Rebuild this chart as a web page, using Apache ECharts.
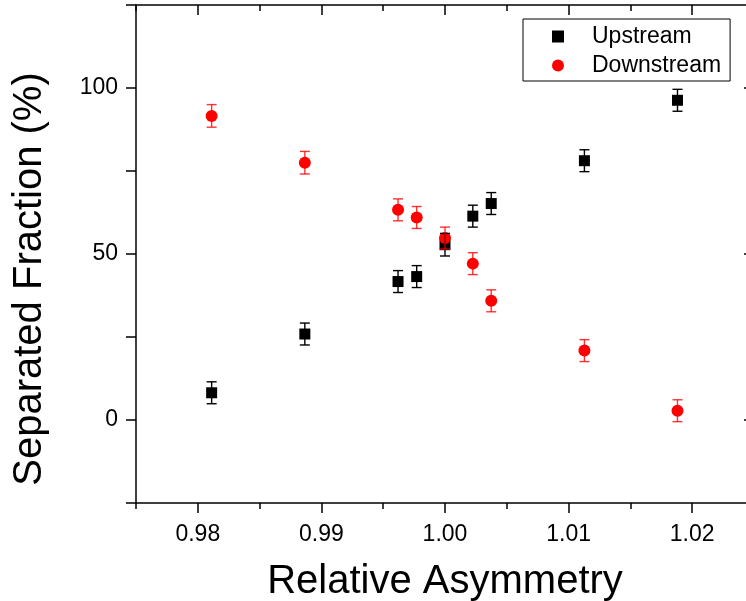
<!DOCTYPE html>
<html><head><meta charset="utf-8">
<script src="https://cdn.jsdelivr.net/npm/echarts@6/dist/echarts.min.js"></script>
<style>html,body{margin:0;padding:0;background:#fff}#c{width:746px;height:601px}</style>
</head><body><div id="c"></div>
<script>
// ---- data ----
const asymmetry = [0.98112, 0.98866, 0.99620, 0.99771, 1.00000, 1.00225, 1.00374, 1.01128, 1.01881];
const upstream = [8.2, 25.9, 41.7, 43.2, 52.8, 61.4, 65.2, 78.1, 96.3];
const upstreamErr = [3.3, 3.3, 3.3, 3.3, 3.4, 3.3, 3.3, 3.3, 3.3];
const downstream = [91.6, 77.5, 63.3, 61.0, 54.8, 47.1, 35.9, 20.9, 2.8];
const downstreamErr = [3.4, 3.4, 3.3, 3.3, 3.3, 3.3, 3.3, 3.3, 3.3];
const xTickLabels = [0.98, 0.99, 1.00, 1.01, 1.02];
const yTickLabels = [0, 50, 100];
const seriesNames = ['Upstream', 'Downstream'];

const FONT = '"Liberation Sans", Arial, sans-serif';
const X_MIN = 0.975, X_MAX = 1.025, X_STEP = 0.005;
const Y_MIN = -25, Y_MAX = 125, Y_STEP = 25;

const chart = echarts.init(document.getElementById('c'), null, {renderer: 'canvas'});

function errSeries(vals, errs, color) {
  return {
    type: 'custom',
    xAxisIndex: 0, yAxisIndex: 0,
    silent: true, z: 5,
    data: asymmetry.map((x, i) => [x, vals[i] - errs[i], vals[i] + errs[i]]),
    encode: {x: 0, y: [1, 2]},
    renderItem: function (params, api) {
      const x = api.value(0);
      const lo = api.coord([x, api.value(1)]);
      const hi = api.coord([x, api.value(2)]);
      const hw = 5;
      const st = {stroke: color, lineWidth: 1.4};
      return {type: 'group', children: [
        {type: 'line', shape: {x1: lo[0], y1: lo[1], x2: hi[0], y2: hi[1]}, style: st},
        {type: 'line', shape: {x1: lo[0] - hw, y1: lo[1], x2: lo[0] + hw, y2: lo[1]}, style: st},
        {type: 'line', shape: {x1: hi[0] - hw, y1: hi[1], x2: hi[0] + hw, y2: hi[1]}, style: st}
      ]};
    }
  };
}

const axisLineStyle = {color: '#000', width: 1.5};
const xBase = {type: 'value', min: X_MIN, max: X_MAX, interval: X_STEP, splitLine: {show: false}};
const yBase = {type: 'value', min: Y_MIN, max: Y_MAX, interval: Y_STEP, splitLine: {show: false}};

const option = {
  animation: false,
  backgroundColor: '#fff',
  textStyle: {fontFamily: FONT, color: '#000'},
  grid: {left: 136, top: 5, width: 618, height: 498, containLabel: false, outerBoundsMode: 'none'},
  legend: {
    data: [
      {name: seriesNames[0], icon: 'rect'},
      {name: seriesNames[1], icon: 'circle'}
    ],
    orient: 'vertical', left: 523, top: 19,
    itemWidth: 12, itemHeight: 12, itemGap: 6,
    padding: [6, 9, 4, 29],
    borderColor: '#000', borderWidth: 1, backgroundColor: '#fff',
    textStyle: {fontSize: 23, fontFamily: FONT, color: '#000', lineHeight: 23, padding: [0, 0, 0, 23]}
  },
  xAxis: [
    Object.assign({}, xBase, {
      position: 'bottom',
      axisLine: {show: true, onZero: false, lineStyle: axisLineStyle},
      axisTick: {show: true, inside: false, length: 6, lineStyle: {color: '#000', width: 1.5}},
      axisLabel: {show: true, customValues: xTickLabels, formatter: v => v.toFixed(2),
        fontSize: 23, margin: 20, color: '#000', fontFamily: FONT},
      name: 'Relative Asymmetry', nameLocation: 'middle', nameGap: 59,
      nameTextStyle: {fontSize: 40, color: '#000', fontFamily: FONT}
    }),
    Object.assign({}, xBase, {
      position: 'bottom',
      axisLine: {show: false, onZero: false},
      axisTick: {show: true, inside: false, length: 10, customValues: xTickLabels, lineStyle: {color: '#000', width: 1.5}},
      axisLabel: {show: false}
    }),
    Object.assign({}, xBase, {
      position: 'top',
      axisLine: {show: true, onZero: false, lineStyle: axisLineStyle},
      axisTick: {show: true, inside: true, length: 6, lineStyle: {color: '#000', width: 1.5}},
      axisLabel: {show: false}
    }),
    Object.assign({}, xBase, {
      position: 'top',
      axisLine: {show: false, onZero: false},
      axisTick: {show: true, inside: true, length: 10, customValues: xTickLabels, lineStyle: {color: '#000', width: 1.5}},
      axisLabel: {show: false}
    })
  ],
  yAxis: [
    Object.assign({}, yBase, {
      position: 'left',
      axisLine: {show: true, onZero: false, lineStyle: axisLineStyle},
      axisTick: {show: true, inside: false, length: 10, lineStyle: {color: '#000', width: 1.5}},
      axisLabel: {show: true, customValues: yTickLabels, fontSize: 23, margin: 18, color: '#000', fontFamily: FONT},
      name: 'Separated Fraction (%)', nameLocation: 'middle', nameGap: 86, nameRotate: 90,
      nameTextStyle: {fontSize: 40, color: '#000', fontFamily: FONT, padding: [0, 50, 0, 0]}
    }),
    Object.assign({}, yBase, {
      position: 'right',
      axisLine: {show: true, onZero: false, lineStyle: axisLineStyle},
      axisTick: {show: true, inside: true, length: 10, customValues: yTickLabels, lineStyle: {color: '#000', width: 1.5}},
      axisLabel: {show: false}
    })
  ],
  series: [
    {
      name: seriesNames[0], type: 'scatter', xAxisIndex: 0, yAxisIndex: 0,
      symbol: 'rect', symbolSize: 11, z: 2,
      itemStyle: {color: '#000', opacity: 1},
      data: asymmetry.map((x, i) => [x, upstream[i]])
    },
    {
      name: seriesNames[1], type: 'scatter', xAxisIndex: 0, yAxisIndex: 0,
      symbol: 'circle', symbolSize: 12, z: 3,
      itemStyle: {color: '#ff0000', opacity: 1},
      data: asymmetry.map((x, i) => [x, downstream[i]])
    },
    errSeries(upstream, upstreamErr, '#000'),
    errSeries(downstream, downstreamErr, 'rgba(255,0,0,0.8)')
  ]
};
chart.setOption(option);
</script>
</body></html>
